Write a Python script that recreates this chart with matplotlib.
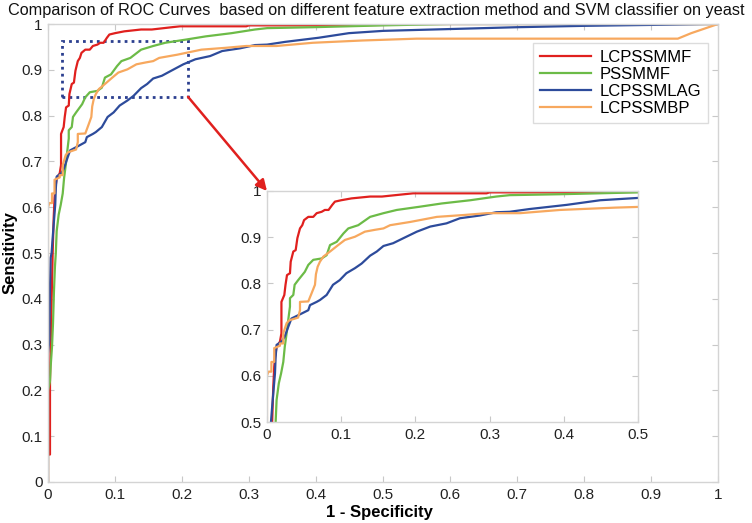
import matplotlib
matplotlib.use('Agg')
from matplotlib import pyplot as plt
from matplotlib.patches import Rectangle

plt.rcParams['font.family'] = ['Liberation Sans', 'DejaVu Sans']

# ROC curves (false positive rate, true positive rate)
red_fpr = [0, 0, 0.003, 0.003, 0.005, 0.007, 0.0085, 0.0098, 0.011, 0.013, 0.0175, 0.0195,
           0.0195, 0.0234, 0.025, 0.027, 0.031, 0.032, 0.0355, 0.0387, 0.041, 0.0445, 0.0476,
           0.050, 0.0557, 0.0624, 0.067, 0.0737, 0.078, 0.083, 0.088, 0.0916, 0.100, 0.114,
           0.139, 0.155, 0.197, 0.296, 0.30, 0.40, 0.50, 0.52, 1.0]
red_tpr = [0, 0.06, 0.06, 0.22, 0.37, 0.5, 0.576, 0.62, 0.641, 0.663, 0.674, 0.692,
           0.76, 0.775, 0.797, 0.818, 0.822, 0.847, 0.869, 0.872, 0.898, 0.919, 0.926,
           0.937, 0.944, 0.944, 0.952, 0.955, 0.959, 0.959, 0.970, 0.977, 0.98, 0.984,
           0.988, 0.988, 0.995, 0.995, 0.997, 0.997, 0.998, 1.0, 1.0]

green_fpr = [0, 0.0, 0.003, 0.004, 0.006, 0.0075, 0.009, 0.0104, 0.0117, 0.013, 0.016, 0.019,
             0.022, 0.024, 0.0265, 0.0287, 0.031, 0.031, 0.0355, 0.0373, 0.042, 0.051, 0.0557,
             0.0624, 0.0737, 0.0804, 0.085, 0.094, 0.103, 0.1096, 0.123, 0.139, 0.157, 0.175,
             0.206, 0.2355, 0.274, 0.309, 0.327, 0.395, 0.5, 0.6, 1.0]
green_tpr = [0, 0.2, 0.22, 0.252, 0.295, 0.346, 0.419, 0.47, 0.5, 0.548, 0.584, 0.605,
             0.63, 0.663, 0.692, 0.721, 0.75, 0.768, 0.775, 0.797, 0.807, 0.825, 0.84,
             0.851, 0.854, 0.861, 0.883, 0.890, 0.908, 0.919, 0.926, 0.944, 0.952, 0.959,
             0.966, 0.973, 0.98, 0.988, 0.991, 0.993, 0.997, 1.0, 1.0]

blue_fpr = [0, 0, 0.002, 0.003, 0.004, 0.0054, 0.007, 0.0085, 0.0108, 0.0117, 0.013, 0.0198,
            0.024, 0.0287, 0.033, 0.047, 0.0557, 0.058, 0.067, 0.0714, 0.0804, 0.089, 0.098,
            0.107, 0.1186, 0.1276, 0.139, 0.148, 0.157, 0.170, 0.184, 0.202, 0.22, 0.242,
            0.26, 0.287, 0.309, 0.327, 0.354, 0.404, 0.449, 0.5, 0.6, 0.7, 0.8, 0.9, 0.98, 1.0]
blue_tpr = [0, 0.28, 0.31, 0.42, 0.49, 0.5, 0.533, 0.562, 0.605, 0.641, 0.667, 0.674,
            0.685, 0.706, 0.724, 0.735, 0.742, 0.753, 0.760, 0.764, 0.775, 0.797, 0.807,
            0.822, 0.833, 0.843, 0.86, 0.869, 0.881, 0.887, 0.898, 0.912, 0.923, 0.930,
            0.941, 0.947, 0.954, 0.955, 0.961, 0.970, 0.980, 0.985, 0.989, 0.993, 0.996,
            0.998, 1.0, 1.0]

orange_fpr = [0, 0, 0.002, 0.006, 0.006, 0.0098, 0.0098, 0.0175, 0.0175, 0.022, 0.022, 0.0265,
              0.03, 0.042, 0.0445, 0.0445, 0.0557, 0.06, 0.0647, 0.066, 0.0683, 0.0714, 0.076,
              0.085, 0.096, 0.105, 0.1186, 0.132, 0.1456, 0.157, 0.166, 0.193, 0.229, 0.265,
              0.296, 0.341, 0.395, 0.469, 0.55, 0.94, 0.96, 0.98, 1.0]
orange_tpr = [0, 0.6, 0.609, 0.609, 0.63, 0.63, 0.66, 0.665, 0.67, 0.67, 0.692, 0.714,
              0.72, 0.726, 0.742, 0.760, 0.761, 0.778, 0.797, 0.820, 0.836, 0.847, 0.858,
              0.869, 0.883, 0.894, 0.901, 0.912, 0.916, 0.919, 0.926, 0.933, 0.944, 0.948,
              0.952, 0.952, 0.959, 0.964, 0.968, 0.968, 0.98, 0.99, 1.0]

names = ['LCPSSMMF', 'PSSMMF', 'LCPSSMLAG', 'LCPSSMBP']
colors = ['#e0201e', '#6cbb47', '#2d4b9b', '#f7a85e']
curves = [(red_fpr, red_tpr), (green_fpr, green_tpr), (blue_fpr, blue_tpr), (orange_fpr, orange_tpr)]

main_ticks = [i / 10 for i in range(11)]
main_labels = ['0', '0.1', '0.2', '0.3', '0.4', '0.5', '0.6', '0.7', '0.8', '0.9', '1']
inset_x = [0, 0.1, 0.2, 0.3, 0.4, 0.5]
inset_x_labels = ['0', '0.1', '0.2', '0.3', '0.4', '0.5']
inset_y = [0.5, 0.6, 0.7, 0.8, 0.9, 1.0]
inset_y_labels = ['0.5', '0.6', '0.7', '0.8', '0.9', '1']

# zoom box drawn on the main plot
box_x, box_y, box_w, box_h = 0.021, 0.841, 0.188, 0.122


def style_axes(a):
    for s in a.spines.values():
        s.set_color('#d4d4d4')
        s.set_linewidth(1.0)
    a.tick_params(direction='in', which='both', top=True, right=True, length=4,
                  color='#c8c8c8', labelsize=11, labelcolor='#222222', pad=4)


fig = plt.figure(figsize=(7.52, 5.23), dpi=100)
ax = fig.add_axes([0.0638, 0.0784, 0.891, 0.8757])

for (fx, ty), c, n in zip(curves, colors, names):
    ax.plot(fx, ty, color=c, lw=1.6, label=n)

ax.set_xlim(0, 1)
ax.set_ylim(0, 1)
ax.set_xticks(main_ticks)
ax.set_xticklabels(main_labels)
ax.set_yticks(main_ticks)
ax.set_yticklabels(main_labels)
style_axes(ax)
ax.set_xlabel('1 - Specificity', fontsize=12, fontweight='bold', va='center')
ax.set_ylabel('Sensitivity', fontsize=12, fontweight='bold', va='center')
ax.xaxis.set_label_coords(0.495, -0.067)
ax.yaxis.set_label_coords(-0.056, 0.5)

ax.add_patch(Rectangle((box_x, box_y), box_w, box_h, fill=False, edgecolor='#2b3f8f',
                       linestyle=(0, (1, 1.5)), lw=2))

leg = ax.legend(loc='upper right', bbox_to_anchor=(0.985, 0.958), fontsize=12,
                frameon=True, fancybox=False, handlelength=3.1, labelspacing=0.12,
                borderpad=0.4, handletextpad=0.5, borderaxespad=0)
leg.get_frame().set_edgecolor('#d4d4d4')
leg.get_frame().set_linewidth(1.0)

fig.text(0.5, 0.994, 'Comparison of ROC Curves  based on different feature extraction method and SVM classifier on yeast',
         ha='center', va='top', fontsize=11.7, color='#111111')

# zoomed inset
ins = fig.add_axes([0.355, 0.1931, 0.4934, 0.4417])
for (fx, ty), c in zip(curves, colors):
    ins.plot(fx, ty, color=c, lw=1.6)
ins.set_xlim(0, 0.5)
ins.set_ylim(0.5, 1)
ins.set_xticks(inset_x)
ins.set_xticklabels(inset_x_labels)
ins.set_yticks(inset_y)
ins.set_yticklabels(inset_y_labels)
style_axes(ins)

ins.annotate('', xy=(0.0, 1.0), xycoords='axes fraction',
             xytext=(box_x + box_w, box_y), textcoords=ax.transData,
             arrowprops=dict(arrowstyle='-|>', color='#e0201e', lw=1.8, mutation_scale=16,
                             shrinkA=0, shrinkB=0),
             annotation_clip=False)

fig.savefig('out.png', dpi=100)
